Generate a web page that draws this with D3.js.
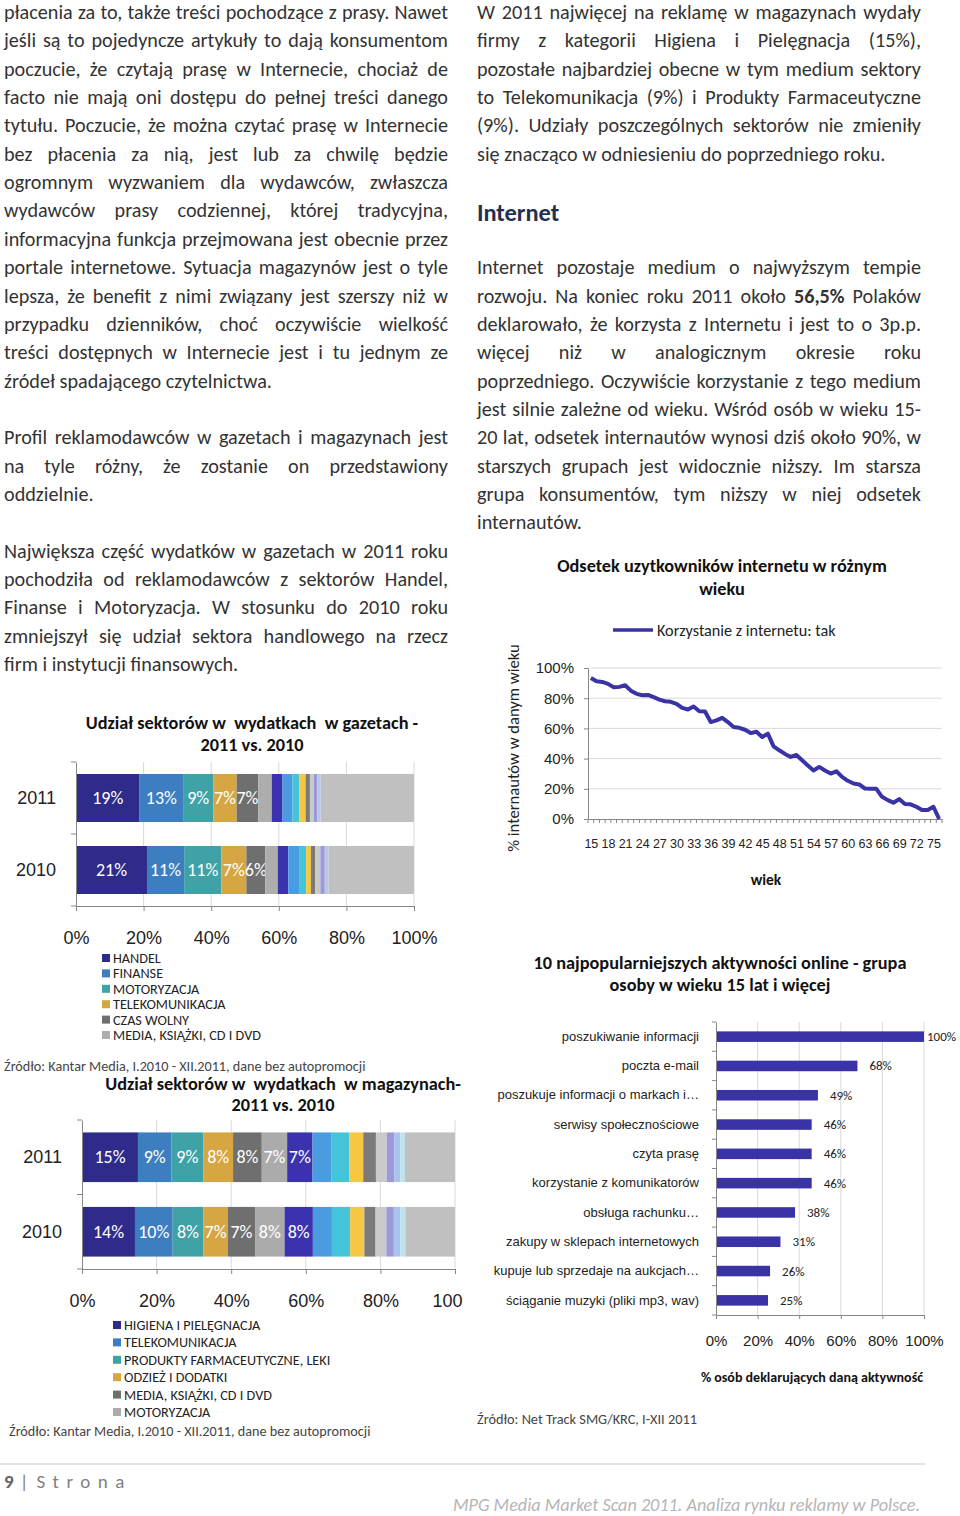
<!DOCTYPE html>
<html><head><meta charset="utf-8">
<script src="https://cdn.jsdelivr.net/npm/d3@7"></script>
<style>
body{margin:0;background:#fff;}
svg{display:block;font-family:Carlito,Calibri,Lato,sans-serif;}
.pre{white-space:pre;}
</style></head><body>
<svg id="page" width="960" height="1516"></svg>
<script>
// ---------------- DATA ----------------
const leftText = [
"płacenia za to, także treści pochodzące z prasy. Nawet",
"jeśli są to pojedyncze artykuły to dają konsumentom",
"poczucie, że czytają prasę w Internecie, chociaż de",
"facto nie mają oni dostępu do pełnej treści danego",
"tytułu. Poczucie, że można czytać prasę w Internecie",
"bez płacenia za nią, jest lub za chwilę będzie",
"ogromnym wyzwaniem dla wydawców, zwłaszcza",
"wydawców prasy codziennej, której tradycyjna,",
"informacyjna funkcja przejmowana jest obecnie przez",
"portale internetowe. Sytuacja magazynów jest o tyle",
"lepsza, że benefit z nimi związany jest szerszy niż w",
"przypadku dzienników, choć oczywiście wielkość",
"treści dostępnych w Internecie jest i tu jednym ze",
"źródeł spadającego czytelnictwa.",
null,
"Profil reklamodawców w gazetach i magazynach jest",
"na tyle różny, że zostanie on przedstawiony",
"oddzielnie.",
null,
"Największa część wydatków w gazetach w 2011 roku",
"pochodziła od reklamodawców z sektorów Handel,",
"Finanse i Motoryzacja. W stosunku do 2010 roku",
"zmniejszył się udział sektora handlowego na rzecz",
"firm i instytucji finansowych."
];
const rightText = [
"W 2011 najwięcej na reklamę w magazynach wydały",
"firmy z kategorii Higiena i Pielęgnacja (15%),",
"pozostałe najbardziej obecne w tym medium sektory",
"to Telekomunikacja (9%) i Produkty Farmaceutyczne",
"(9%). Udziały poszczególnych sektorów nie zmieniły",
"się znacząco w odniesieniu do poprzedniego roku.",
null, null, null,
"Internet pozostaje medium o najwyższym tempie",
"rozwoju. Na koniec roku 2011 około **56,5%** Polaków",
"deklarowało, że korzysta z Internetu i jest to o 3p.p.",
"więcej niż w analogicznym okresie roku",
"poprzedniego. Oczywiście korzystanie z tego medium",
"jest silnie zależne od wieku. Wśród osób w wieku 15-",
"20 lat, odsetek internautów wynosi dziś około 90%, w",
"starszych grupach jest widocznie niższy. Im starsza",
"grupa konsumentów, tym niższy w niej odsetek",
"internautów."
];
const internetHeading = "Internet";

// Chart 1: newspapers
const gazetyTitle = ["Udział sektorów w  wydatkach  w gazetach -", "2011 vs. 2010"];
const gazetyYears = ["2011", "2010"];
const gazetySectors = ["HANDEL","FINANSE","MOTORYZACJA","TELEKOMUNIKACJA","CZAS WOLNY","MEDIA, KSIĄŻKI, CD I DVD"];
const gazety2011 = [19, 13, 9, 7, 6.5, 4, 3.2, 3, 2, 1.9, 1.3, 1.2, 1, 1, 27.9];
const gazety2010 = [21, 11, 11, 7.4, 5.6, 3.7, 3.1, 3.4, 1.9, 1.4, 1.3, 1.5, 1.3, 1.1, 25.3];
const gazetyLabelled = 5;
const gazetyColors = ["#2E2B8A","#3C7EBF","#3FA2A6","#D5A641","#6F6F6F","#ADADAD","#3B33AE","#4A9BE0","#45C4D9","#F7C744","#7A7A7A","#C9C9C9","#9C9AD6","#B5C7EC","#C0C0C0"];
const sourceKantar = "Źródło: Kantar Media, I.2010 - XII.2011, dane bez autopromocji";

// Chart 2: magazines
const magTitle = ["Udział sektorów w  wydatkach  w magazynach-", "2011 vs. 2010"];
const magYears = ["2011", "2010"];
const magSectors = ["HIGIENA I PIELĘGNACJA","TELEKOMUNIKACJA","PRODUKTY FARMACEUTYCZNE, LEKI","ODZIEŻ I DODATKI","MEDIA, KSIĄŻKI, CD I DVD","MOTORYZACJA"];
const mag2011 = [15, 9, 8.5, 8, 7.7, 6.8, 6.8, 5, 4.9, 3.7, 3.4, 2.9, 2, 1.6, 1.3, 13.4];
const mag2010 = [14.2, 10.1, 8.2, 6.6, 7.3, 7.9, 7.6, 5.1, 4.9, 3.8, 3, 2.9, 2, 1.7, 1.4, 13.3];
const magLabelled = 7;
const magColors = ["#2E2B8A","#3C7EBF","#3FA2A6","#D5A641","#6F6F6F","#ABABAB","#3B33AE","#4A9BE0","#45C4D9","#F7C744","#7A7A7A","#CACACA","#9C9AD6","#A9C3EE","#BFE3EE","#C0C0C0"];

// Chart 3: internet by age
const lineTitle = ["Odsetek uzytkowników internetu w różnym", "wieku"];
const lineSeriesName = "Korzystanie z internetu: tak";
const lineYTitle = "% internautów w danym wieku";
const lineXTitle = "wiek";
const ages = [15,16,17,18,19,20,21,22,23,24,25,26,27,28,29,30,31,32,33,34,35,36,37,38,39,40,41,42,43,44,45,46,47,48,49,50,51,52,53,54,55,56,57,58,59,60,61,62,63,64,65,66,67,68,69,70,71,72,73,74,75,76];
const ageTickLabels = [15,18,21,24,27,30,33,36,39,42,45,48,51,54,57,60,63,66,69,72,75];
const internetShare = [93.4,91.2,90.8,89.5,87.3,87.5,88.6,85,82.9,82,
82.2,80.7,79.1,78,77.6,76.3,73.6,72.5,74.5,71.4,
71.2,64.2,65.3,67,64.2,60.9,60.4,59.1,56.9,57.8,
54.3,56.5,48.1,45.5,43.1,41.1,42.4,38.9,35.4,32.1,
34.5,32.1,30.1,31.6,27.9,25.3,23.5,22.9,20.2,20,
20,14.7,12.5,10.8,13.2,9.9,9.7,8.1,5.9,5.9,
8.1,0];
const pctTicks = [0,20,40,60,80,100];

// Chart 4: online activities
const barTitle = ["10 najpopularniejszych aktywności online - grupa", "osoby w wieku 15 lat i więcej"];
const actCategories = ["poszukiwanie informacji","poczta e-mail","poszukuje informacji o markach i…","serwisy społecznościowe","czyta prasę","korzystanie z komunikatorów","obsługa rachunku…","zakupy w sklepach internetowych","kupuje lub sprzedaje na aukcjach…","ściąganie muzyki (pliki mp3, wav)"];
const actValues = [100,68,49,46,46,46,38,31,26,25];
const barXTitle = "% osób deklarujących daną aktywność";
const sourceNet = "Źródło: Net Track SMG/KRC, I-XII 2011";

const footerPage = "9";
const footerWord = "Strona";
const footerRight = "MPG Media Market Scan 2011. Analiza rynku reklamy w Polsce.";

// ---------------- DRAW ----------------
const svg = d3.select("#page");
const TXT = "#333";
const GRID = "#d9d9d9";
const AX = "#868686";
const BODY = 20.2;

const meas = svg.append("text").attr("font-size", 18).attr("visibility","hidden");
function textW(str, size, weight){
  meas.attr("font-size", size).attr("font-weight", weight||"normal").text(str);
  return meas.node().getComputedTextLength();
}
function placeLine(g, text, x, y, width, justify, size){
  const tokens = text.split(" ").filter(s => s.length).map(tok => ({
    bold: tok.startsWith("**"), word: tok.replace(/\*\*/g,"")
  }));
  const nat = textW("a a", size) - textW("aa", size);
  tokens.forEach(t => t.w = textW(t.word, size, t.bold ? "bold" : "normal"));
  const total = d3.sum(tokens, t => t.w);
  let gap = nat, scale = 1;
  if (justify && tokens.length > 1) {
    gap = (width - total) / (tokens.length - 1);
    if (gap < nat * 0.7) { gap = nat * 0.7; scale = width / (total + gap*(tokens.length-1)); }
  }
  const lg = g.append("g").attr("transform", `translate(${x},${y}) scale(${scale},1)`);
  let cx = 0;
  tokens.forEach(t => {
    lg.append("text").attr("x", cx).attr("y", 0).attr("font-size", size).attr("fill", TXT)
      .attr("dominant-baseline","central").attr("font-weight", t.bold ? "bold" : null).text(t.word);
    cx += t.w + gap;
  });
}
function column(lines, x, width, y0, step){
  const g = svg.append("g");
  lines.forEach((ln, i) => {
    if (ln === null) return;
    const next = lines[i+1];
    const justify = next !== undefined && next !== null;
    placeLine(g, ln, x, y0 + step*i, width, justify, BODY);
  });
}
column(leftText, 4, 444, 12, 28.35);
column(rightText, 477, 444, 12, 28.35);
svg.append("text").attr("x", 477).attr("y", 213).attr("dominant-baseline","central")
  .attr("font-size", 24.4).attr("font-weight","bold").attr("fill","#1F3050").text(internetHeading);

// ---- stacked 100% bar chart helper ----
function stacked(cfg){
  const g = svg.append("g");
  const clipId = cfg.id + "clip";
  svg.append("clipPath").attr("id", clipId).append("rect").attr("x",0).attr("y",cfg.y0-80).attr("width",cfg.clipW).attr("height",400);
  g.attr("clip-path", `url(#${clipId})`);
  const keys = cfg.series[0].map((_,i) => "s"+i);
  const rows = cfg.years.map((yr,j) => { const o = {year: yr}; keys.forEach((k,i) => o[k] = cfg.series[j][i]); return o; });
  const stack = d3.stack().keys(keys).offset(d3.stackOffsetExpand)(rows);
  const x = d3.scaleLinear().domain([0,1]).range([cfg.x0, cfg.x1]);
  const y = d3.scaleBand().domain(cfg.years).range([cfg.y0, cfg.y1]).paddingInner(1/3).paddingOuter(1/6);
  g.selectAll("line.grid").data([0.2,0.4,0.6,0.8,1]).join("line")
    .attr("x1", d => x(d)).attr("x2", d => x(d)).attr("y1", cfg.y0).attr("y2", cfg.y1)
    .attr("stroke", GRID).attr("stroke-width", 1);
  stack.forEach((layer, li) => {
    g.selectAll(null).data(layer).join("rect")
      .attr("x", d => x(d[0])).attr("width", d => x(d[1]) - x(d[0]))
      .attr("y", d => y(d.data.year)).attr("height", y.bandwidth())
      .attr("fill", cfg.colors[li]);
    if (li < cfg.labelled) {
      g.selectAll(null).data(layer).join("text")
        .attr("x", d => (x(d[0]) + x(d[1]))/2).attr("y", d => y(d.data.year) + y.bandwidth()/2)
        .attr("text-anchor","middle").attr("dominant-baseline","central")
        .attr("font-size", 18).attr("fill","#fff")
        .text(d => Math.round(d.data[keys[li]]) + "%");
    }
  });
  const xa = g.append("g").attr("transform", `translate(0,${cfg.y1})`)
    .call(d3.axisBottom(x).tickValues([0,0.2,0.4,0.6,0.8,1]).tickFormat(d3.format(".0%")).tickSize(5).tickPadding(20).tickSizeOuter(0));
  xa.select(".domain").attr("stroke", AX);
  xa.selectAll(".tick line").attr("stroke", AX);
  xa.selectAll("text").attr("font-size", 18).attr("fill", "#222").attr("font-family", null);
  const ya = g.append("g").attr("transform", `translate(${cfg.x0},0)`)
    .call(d3.axisLeft(y).tickSize(0).tickPadding(20).tickSizeOuter(0));
  ya.select(".domain").attr("stroke", AX);
  ya.selectAll("text").attr("font-size", 18).attr("fill", "#222").attr("font-family", null);
  const bounds = [cfg.y0, ...cfg.years.slice(1).map(d => y(d) - y.step()*y.paddingInner()/2), cfg.y1];
  g.selectAll(null).data(bounds).join("line")
    .attr("x1", cfg.x0 - 5).attr("x2", cfg.x0).attr("y1", d => d).attr("y2", d => d).attr("stroke", AX);
  cfg.title.forEach((t,i) => svg.append("text").attr("class","pre").attr("x", cfg.titleX).attr("y", cfg.titleY[i])
    .attr("text-anchor","middle").attr("dominant-baseline","central").attr("font-size", 18.3)
    .attr("font-weight","bold").attr("fill","#111").text(t));
  const lg = svg.append("g");
  cfg.legend.forEach((name,i) => {
    const yy = cfg.legY + i*cfg.legStep;
    lg.append("rect").attr("x", cfg.legX).attr("y", yy - 4).attr("width", 8).attr("height", 8).attr("fill", cfg.colors[i]);
    lg.append("text").attr("x", cfg.legX + 11).attr("y", yy).attr("dominant-baseline","central")
      .attr("font-size", 14.2).attr("fill", "#222").text(name);
  });
}

svg.append("text").attr("x", 4).attr("y", 1066).attr("dominant-baseline","central").attr("font-size", 14.2)
  .attr("fill","#444").text(sourceKantar);
stacked({id:"gaz", series:[gazety2011, gazety2010], years:gazetyYears, colors:gazetyColors, labelled:gazetyLabelled,
  x0:76, x1:414, y0:762, y1:906, clipW:470, title:gazetyTitle, titleX:252, titleY:[723,745],
  legend:gazetySectors, legX:102, legY:958, legStep:15.4});

stacked({id:"mag", series:[mag2011, mag2010], years:magYears, colors:magColors, labelled:magLabelled,
  x0:82, x1:455, y0:1120, y1:1269, clipW:463, title:magTitle, titleX:283, titleY:[1084,1105],
  legend:magSectors, legX:113, legY:1325, legStep:17.4});
svg.append("text").attr("x", 9).attr("y", 1431).attr("dominant-baseline","central").attr("font-size", 14.2)
  .attr("fill","#444").text(sourceKantar);

// ---- line chart ----
{
  const g = svg.append("g");
  const x = d3.scalePoint().domain(ages).range([588, 942]).padding(0.5);
  const y = d3.scaleLinear().domain([0,100]).range([819, 668]);
  g.selectAll(null).data(pctTicks.slice(1)).join("line")
    .attr("x1", 588).attr("x2", 942).attr("y1", d => y(d)).attr("y2", d => y(d)).attr("stroke", GRID);
  const ya = g.append("g").attr("transform","translate(588,0)")
    .call(d3.axisLeft(y).tickValues(pctTicks).tickFormat(d => d + "%").tickSize(4).tickPadding(10).tickSizeOuter(0));
  ya.select(".domain").attr("stroke", AX);
  ya.selectAll(".tick line").attr("stroke", AX);
  ya.selectAll("text").attr("font-size", 15).attr("fill","#222").attr("font-family", null);
  const xa = g.append("g").attr("transform","translate(0,819)")
    .call(d3.axisBottom(x).tickValues(ageTickLabels).tickSize(0).tickPadding(20).tickSizeOuter(0));
  xa.select(".domain").attr("stroke", AX);
  xa.selectAll("text").attr("font-size", 12.5).attr("fill","#222").attr("font-family", null);
  const bounds = ages.map(a => x(a) - x.step()/2).concat([x(ages[ages.length-1]) + x.step()/2]);
  g.selectAll(null).data(bounds).join("line")
    .attr("x1", d => d).attr("x2", d => d).attr("y1", 819).attr("y2", 823).attr("stroke", AX);
  const line = d3.line().x((d,i) => x(ages[i])).y(d => y(d));
  g.append("path").datum(internetShare).attr("d", line).attr("fill","none")
    .attr("stroke","#3A33A6").attr("stroke-width", 4).attr("stroke-linejoin","round");
  lineTitle.forEach((t,i) => svg.append("text").attr("x", 722).attr("y", [566,589][i])
    .attr("text-anchor","middle").attr("dominant-baseline","central").attr("font-size", 18.3)
    .attr("font-weight","bold").attr("fill","#111").text(t));
  svg.append("line").attr("x1", 613).attr("x2", 653).attr("y1", 630).attr("y2", 630)
    .attr("stroke","#3A33A6").attr("stroke-width", 3.5);
  svg.append("text").attr("x", 657).attr("y", 630).attr("dominant-baseline","central")
    .attr("font-size", 16.2).attr("fill","#222").text(lineSeriesName);
  svg.append("text").attr("transform","translate(513,748) rotate(-90)").attr("text-anchor","middle")
    .attr("dominant-baseline","central").attr("font-size", 16.6).attr("fill","#222").text(lineYTitle);
  svg.append("text").attr("x", 766).attr("y", 879).attr("text-anchor","middle").attr("dominant-baseline","central")
    .attr("font-size", 15.5).attr("font-weight","bold").attr("fill","#111").text(lineXTitle);
}

// ---- horizontal bar chart ----
{
  const g = svg.append("g");
  const x = d3.scaleLinear().domain([0,100]).range([716, 924]);
  const y = d3.scaleBand().domain(actCategories).range([1022, 1315]).paddingInner(0.64).paddingOuter(0.32);
  g.selectAll(null).data(pctTicks.slice(1)).join("line")
    .attr("x1", d => x(d)).attr("x2", d => x(d)).attr("y1", 1022).attr("y2", 1315).attr("stroke", GRID);
  g.selectAll(null).data(actValues).join("rect")
    .attr("x", x(0)).attr("y", (d,i) => y(actCategories[i])).attr("width", d => x(d) - x(0))
    .attr("height", y.bandwidth()).attr("fill", "#3A33A6");
  g.selectAll(null).data(actValues).join("text")
    .attr("x", d => Math.min(x(d) + 12, 927)).attr("y", (d,i) => y(actCategories[i]) + y.bandwidth()/2)
    .attr("dominant-baseline","central").attr("font-size", 13).attr("fill","#222").text(d => d + "%");
  const ya = g.append("g").attr("transform","translate(716,0)")
    .call(d3.axisLeft(y).tickSize(0).tickPadding(17).tickSizeOuter(0));
  ya.select(".domain").attr("stroke", AX);
  ya.selectAll("text").attr("font-size", 13).attr("fill","#222").attr("font-family", null);
  const bounds = actCategories.map(c => y(c) - y.step()*y.paddingInner()/2).slice(1).concat([1022,1315]);
  g.selectAll(null).data(bounds).join("line")
    .attr("x1", 712).attr("x2", 716).attr("y1", d => d).attr("y2", d => d).attr("stroke", AX);
  const xa = g.append("g").attr("transform","translate(0,1315)")
    .call(d3.axisBottom(x).tickValues(pctTicks).tickFormat(d => d + "%").tickSize(4).tickPadding(16).tickSizeOuter(0));
  xa.select(".domain").attr("stroke", AX);
  xa.selectAll(".tick line").attr("stroke", AX);
  xa.selectAll("text").attr("font-size", 15).attr("fill","#222").attr("font-family", null);
  barTitle.forEach((t,i) => svg.append("text").attr("x", 720).attr("y", [963,985][i])
    .attr("text-anchor","middle").attr("dominant-baseline","central").attr("font-size", 18.3)
    .attr("font-weight","bold").attr("fill","#111").text(t));
  svg.append("text").attr("x", 812).attr("y", 1377).attr("text-anchor","middle").attr("dominant-baseline","central")
    .attr("font-size", 14).attr("font-weight","bold").attr("fill","#111").text(barXTitle);
  svg.append("text").attr("x", 477).attr("y", 1419).attr("dominant-baseline","central").attr("font-size", 14.3)
    .attr("fill","#444").text(sourceNet);
}

// ---- footer ----
svg.append("line").attr("x1", 0).attr("x2", 925).attr("y1", 1464).attr("y2", 1464).attr("stroke", "#d9d9d9").attr("stroke-width", 1.5);
const ft = svg.append("text").attr("x", 4).attr("y", 1481).attr("dominant-baseline","central").attr("font-size", 19);
ft.append("tspan").attr("font-weight","bold").attr("fill","#666").text(footerPage);
ft.append("tspan").attr("dx", 6).attr("fill","#7f7f7f").text("|");
ft.append("tspan").attr("dx", 8).attr("fill","#7f7f7f").attr("letter-spacing", 7.5).text(footerWord);
svg.append("text").attr("x", 920).attr("y", 1505).attr("text-anchor","end").attr("dominant-baseline","central")
  .attr("font-size", 18.2).attr("font-style","italic").attr("fill","#b5b5b5").text(footerRight);
meas.remove();
</script>
</body></html>
